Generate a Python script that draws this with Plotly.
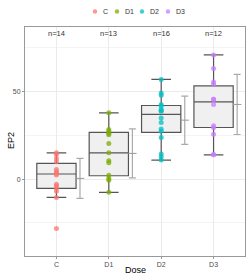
import plotly.graph_objects as go

categories = ["C", "D1", "D2", "D3"]
colors = ["#F8766D", "#7CAE00", "#00BFC4", "#C77CFF"]

ep2_C = [15.0, 14.1, 11.8, 9.9, 5.5, 4.2, 3.3, 2.3, -2.9, -4.0, -5.3, -6.9, -10.5, -28.2]
ep2_D1 = [37.9, 28.4, 27.4, 26.1, 25.3, 20.4, 15.0, 10.5, 9.3, 2.2, 0.4, -0.6, -7.6]
ep2_D2 = [57.0, 49.3, 48.0, 42.7, 41.6, 39.8, 39.0, 39.0, 35.0, 32.4, 28.6, 27.4, 23.8,
          14.3, 12.8, 10.9]
ep2_D3 = [71.0, 63.2, 55.6, 54.3, 45.7, 45.7, 42.7, 30.5, 29.3, 25.7, 14.1, 13.9]
groups = [ep2_C, ep2_D1, ep2_D2, ep2_D3]

# box statistics
box_q1 = [-5.3, 1.9, 26.7, 29.5]
box_median = [2.9, 15.0, 37.0, 44.2]
box_q3 = [9.0, 26.7, 42.1, 53.3]
box_lower = [-10.5, -7.6, 10.9, 13.9]
box_upper = [15.0, 37.9, 57.0, 71.0]

# mean +/- sd
mean_vals = [0.4, 14.7, 33.7, 42.7]
sd_vals = [11.4, 14.0, 13.8, 17.2]

n_labels = ["n=14", "n=13", "n=16", "n=12"]

xpos = [1, 2, 3, 4]

W, H = 249, 279
ML, MR, MT, MB = 25, 4, 27, 23
PW, PH = W - ML - MR, H - MT - MB


def px_x(px):
    return (px - ML) / PW


def px_y(py):
    return (H - MB - py) / PH


fig = go.Figure()

fig.add_trace(go.Box(
    x=xpos, q1=box_q1, median=box_median, q3=box_q3,
    lowerfence=box_lower, upperfence=box_upper,
    width=0.75, fillcolor="#f0f0f0", line=dict(color="#555555", width=1.2),
    boxpoints=False, showlegend=False, hoverinfo="skip",
))

for i, (cat, vals) in enumerate(zip(categories, groups)):
    fig.add_trace(go.Scatter(
        x=[xpos[i]] * len(vals), y=vals, mode="markers", name=cat,
        marker=dict(color=colors[i], size=5, opacity=0.75),
        showlegend=False,
    ))

fig.add_trace(go.Scatter(
    x=[p + 0.45 for p in xpos], y=mean_vals, mode="markers",
    marker=dict(symbol="line-ew", size=6, line=dict(color="#999999", width=1)),
    error_y=dict(type="data", array=sd_vals, color="#aaaaaa", thickness=1.2, width=3.5),
    showlegend=False,
))

for i, lab in enumerate(n_labels):
    fig.add_annotation(x=xpos[i], y=83, text=lab, showarrow=False,
                       font=dict(size=7.5, color="#333333"))

# legend drawn at the top
leg_marker_px = [95, 117, 142, 168]
for i, cat in enumerate(categories):
    cx = px_x(leg_marker_px[i])
    cy = px_y(11.5)
    fig.add_shape(type="circle", xref="paper", yref="paper",
                  xsizemode="pixel", ysizemode="pixel", xanchor=cx, yanchor=cy,
                  x0=-2.2, x1=2.2, y0=-2.2, y1=2.2,
                  fillcolor=colors[i], opacity=0.75, line=dict(width=0))
    fig.add_annotation(x=px_x(leg_marker_px[i] + 6), y=cy, xref="paper", yref="paper",
                       text=cat, showarrow=False, xanchor="left", yanchor="middle",
                       font=dict(size=7, color="#333333"))

fig.add_annotation(x=px_x(135), y=px_y(270), xref="paper", yref="paper", text="Dose",
                   showarrow=False, font=dict(size=9, color="#000000"),
                   xanchor="center", yanchor="middle")
fig.add_annotation(x=px_x(11), y=px_y(141), xref="paper", yref="paper", text="EP2",
                   showarrow=False, font=dict(size=9, color="#000000"), textangle=-90,
                   xanchor="center", yanchor="middle")

fig.update_layout(
    width=W, height=H,
    margin=dict(l=ML, r=MR, t=MT, b=MB),
    plot_bgcolor="white", paper_bgcolor="white",
    font=dict(family="Liberation Sans, Arial, sans-serif", size=7, color="#4d4d4d"),
    showlegend=False,
    xaxis=dict(
        range=[0.4, 4.6], tickvals=xpos, ticktext=categories,
        showgrid=True, gridcolor="#ebebeb", gridwidth=1,
        showline=True, mirror=True, linecolor="#999999", linewidth=1,
        ticks="outside", ticklen=2, tickcolor="#999999", zeroline=False,
        tickfont=dict(size=7, color="#4d4d4d"), automargin=False,
    ),
    yaxis=dict(
        range=[-44, 87], tickvals=[0, 50],
        showgrid=True, gridcolor="#ebebeb", gridwidth=1,
        minor=dict(tickvals=[-25, 25, 75], showgrid=True, gridcolor="#f4f4f4", ticks=""),
        showline=True, mirror=True, linecolor="#999999", linewidth=1,
        ticks="outside", ticklen=2, tickcolor="#999999", zeroline=False,
        tickfont=dict(size=7, color="#4d4d4d"), automargin=False,
    ),
)

fig.write_html("out.html", config={"displayModeBar": False},
               post_script="document.body.style.margin='0';document.body.style.padding='0';")
